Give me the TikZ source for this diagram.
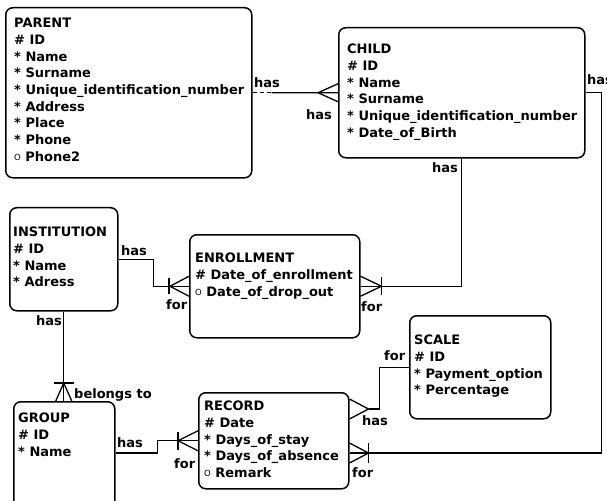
\documentclass[tikz,border=0pt]{standalone}
\usepackage{fontspec}
\setmainfont{DejaVu Sans}
\usetikzlibrary{calc}
\newcommand{\optmark}{\raisebox{1bp}{\fontsize{8.5bp}{8.5bp}\selectfont\mdseries O}}
\begin{document}
\begin{tikzpicture}[x=1bp,y=-1bp,
  entity/.style={draw, line width=1.5bp, rounded corners=7bp, anchor=north west, inner sep=0pt},
  attrs/.style={anchor=north west, inner sep=0pt, align=left, font=\fontsize{13bp}{16.7bp}\selectfont\bfseries},
  lbl/.style={anchor=base west, inner sep=0pt, font=\fontsize{13bp}{16.7bp}\selectfont\bfseries},
  rel/.style={line width=1.3bp}
]
\useasboundingbox (0,0) rectangle (607,501);

% entity boxes
\node[entity, minimum width=246bp, minimum height=170bp] (parent) at (5,7) {};
\node[entity, minimum width=246bp, minimum height=130bp] (child) at (338,27) {};
\node[entity, minimum width=108bp, minimum height=103bp] (institution) at (9,207) {};
\node[entity, minimum width=170bp, minimum height=103bp] (enrollment) at (189,234) {};
\node[entity, minimum width=101bp, minimum height=130bp] (group) at (13,401) {};
\node[entity, minimum width=150bp, minimum height=96bp] (record) at (198,392) {};
\node[entity, minimum width=141bp, minimum height=103bp] (scale) at (409,315) {};

% entity texts
\node[attrs] (parentTxt) at (14,18) {PARENT\\\# ID\\* Name\\* Surname\\* Unique\_identification\_number\\* Address\\* Place\\* Phone\\\optmark\ Phone2};
\node[attrs] (childTxt) at (347,44) {CHILD\\\# ID\\* Name\\* Surname\\* Unique\_identification\_number\\* Date\_of\_Birth};
\node[attrs] (institutionTxt) at (13,227) {INSTITUTION\\\# ID\\* Name\\* Adress};
\node[attrs] (enrollmentTxt) at (195,253) {ENROLLMENT\\\# Date\_of\_enrollment\\\optmark\ Date\_of\_drop\_out};
\node[attrs] (groupTxt) at (18,413) {GROUP\\\# ID\\* Name};
\node[attrs] (recordTxt) at (204,401) {RECORD\\\# Date\\* Days\_of\_stay\\* Days\_of\_absence\\\optmark\ Remark};
\node[attrs] (scaleTxt) at (414,335) {SCALE\\\# ID\\* Payment\_option\\* Percentage};

% PARENT - CHILD
\draw[rel, dash pattern=on 4bp off 3bp] (parent.east) -- ++(19,0) coordinate (pcDash);
\draw[rel] (pcDash) -- (child.west);
\draw[rel] ($(child.west)+(0,-9)$) -- ($(child.west)+(-20,0)$) -- ($(child.west)+(0,9)$);

% CHILD - RECORD
\coordinate (recLow) at ($(record.north east)+(0,61)$);
\coordinate (recUp) at ($(record.north east)+(0,17)$);
\draw[rel] (child.east) -- ++(16,0) |- (recLow);
\draw[rel] ($(recLow)+(0,-10)$) -- ($(recLow)+(19,0)$) -- ($(recLow)+(0,10)$);
\draw[rel] ($(recLow)+(19,-10)$) -- ($(recLow)+(19,10)$);

% CHILD - ENROLLMENT
\draw[rel] (child.south) |- (enrollment.east);
\draw[rel] ($(enrollment.east)+(0,-10)$) -- ($(enrollment.east)+(21,0)$) -- ($(enrollment.east)+(0,10)$);
\draw[rel] ($(enrollment.east)+(21,-9)$) -- ($(enrollment.east)+(21,9)$);

% INSTITUTION - ENROLLMENT
\draw[rel] (institution.east) -- ++(35,0) |- (enrollment.west);
\draw[rel] ($(enrollment.west)+(0,-10)$) -- ($(enrollment.west)+(-19,0)$) -- ($(enrollment.west)+(0,10)$);
\draw[rel] ($(enrollment.west)+(-20,-8)$) -- ($(enrollment.west)+(-20,8)$);

% INSTITUTION - GROUP
\draw[rel] (institution.south) -- (institution.south |- group.north);
\coordinate (grpTop) at (institution.south |- group.north);
\draw[rel] ($(grpTop)+(-8,0)$) -- ($(grpTop)+(0,-18)$) -- ($(grpTop)+(8,0)$);
\draw[rel] ($(grpTop)+(-10,-18)$) -- ($(grpTop)+(10,-18)$);

% GROUP - RECORD
\coordinate (grpR) at ($(group.north east)+(0,52)$);
\draw[rel] (grpR) -- ++(42,0) |- (record.west);
\draw[rel] ($(record.west)+(0,-10)$) -- ($(record.west)+(-20,0)$) -- ($(record.west)+(0,10)$);
\draw[rel] ($(record.west)+(-20,-9)$) -- ($(record.west)+(-20,9)$);

% RECORD - SCALE
\draw[rel] ($(recUp)+(0,-10)$) -- ($(recUp)+(19,0)$) -- ($(recUp)+(0,10)$);
\draw[rel] ($(recUp)+(19,0)$) -- ++(11,0) |- (scale.west);

% relationship labels
\node[lbl] (l1) at (254,88) {has};
\node[lbl] (l2) at (306,120) {has};
\node[lbl] (l3) at (587,85) {has};
\node[lbl] (l4) at (432,173) {has};
\node[lbl] (l5) at (121,255) {has};
\node[lbl] (l6) at (166,309) {for};
\node[lbl] (l7) at (361,311) {for};
\node[lbl] (l8) at (36,325) {has};
\node[lbl] (l9) at (74,398) {belongs to};
\node[lbl] (l10) at (117,447) {has};
\node[lbl] (l11) at (174,468) {for};
\node[lbl] (l12) at (362,425) {has};
\node[lbl] (l13) at (352,477) {for};
\node[lbl] (l14) at (384,360) {for};
\end{tikzpicture}
\end{document}
